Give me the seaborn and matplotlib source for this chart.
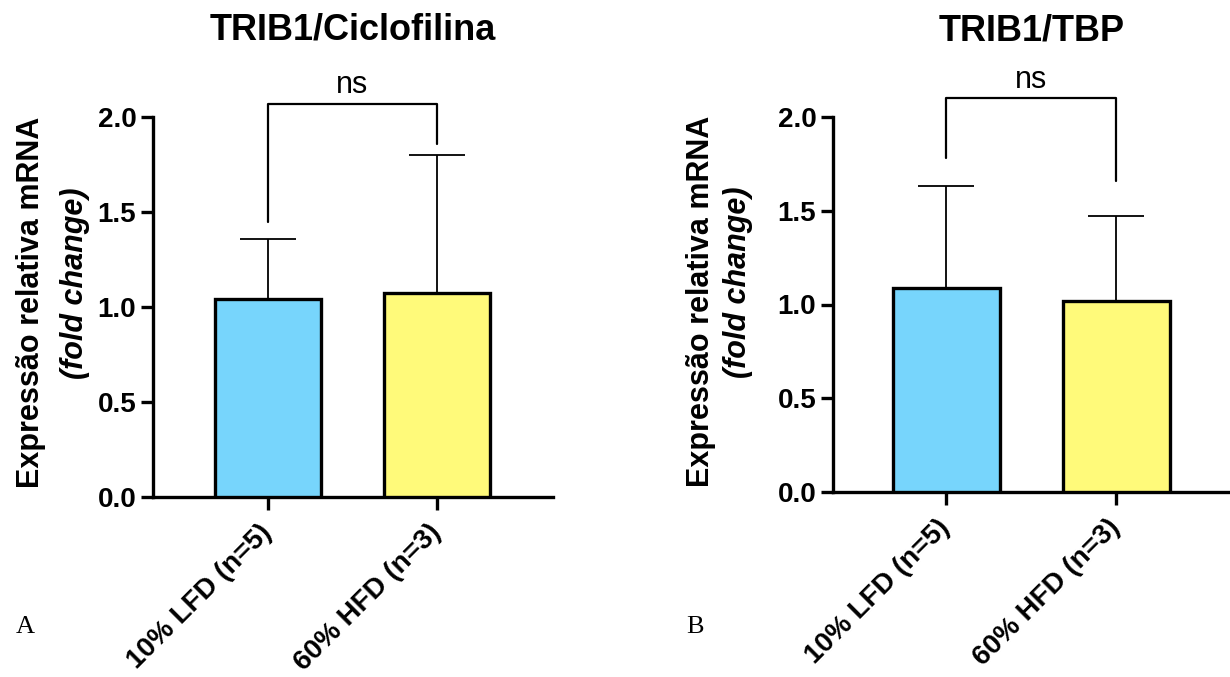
import numpy as np
import pandas as pd
import seaborn as sns
import matplotlib
matplotlib.use("Agg")
import matplotlib.pyplot as plt

sns.set_theme(style="ticks")
plt.rcParams['font.family'] = ['Liberation Sans', 'DejaVu Sans']
plt.rcParams['text.color'] = 'black'
plt.rcParams['xtick.color'] = 'black'
plt.rcParams['ytick.color'] = 'black'
plt.rcParams['axes.labelcolor'] = 'black'

groups = ["10% LFD (n=5)", "60% HFD (n=3)"]
titles = ["TRIB1/Ciclofilina", "TRIB1/TBP"]
means_cic = [1.04, 1.075]
sd_cic = [0.32, 0.725]
means_tbp = [1.088, 1.019]
sd_tbp = [0.544, 0.453]
bracket_cic = [2.07, 1.45, 1.86]   # top, left leg end, right leg end
bracket_tbp = [2.10, 1.78, 1.66]
sig_labels = ["ns", "ns"]
panel_letters = ["A", "B"]
yticks = [0.0, 0.5, 1.0, 1.5, 2.0]
colors = ["#77D5FC", "#FFFA7A"]

fig = plt.figure(figsize=(12.3, 6.77), dpi=100)
axA = fig.add_axes([153/1230, 1-497/677, 400/1230, 380/677])
axB = fig.add_axes([833/1230, 1-492/677, 397/1230, 375/677])

panels = [(axA, means_cic, sd_cic, bracket_cic, titles[0], sig_labels[0], (-0.68, 1.686)),
          (axB, means_tbp, sd_tbp, bracket_tbp, titles[1], sig_labels[1], (-0.665, 1.67))]

for ax, means, sds, br, title, sig, xl in panels:
    df = pd.DataFrame({"group": groups, "value": means})
    sns.barplot(data=df, x="group", y="value", hue="group", palette=colors,
                saturation=1, legend=False, ax=ax, width=0.63, edgecolor="black",
                linewidth=2.4, errorbar=None, zorder=3)
    ax.errorbar(np.arange(len(means)), means, yerr=[np.zeros(len(sds)), sds],
                fmt="none", ecolor="black", elinewidth=1.3, capsize=20,
                capthick=1.3, zorder=2)
    ax.set_ylim(0, 2.0)
    ax.set_xlim(*xl)
    ax.set_yticks(yticks)
    ax.set_yticklabels([f"{v:.1f}" for v in yticks], fontsize=20, fontweight="bold")
    ax.set_xticks(range(len(groups)))
    ax.set_xticklabels(groups, fontsize=20, fontweight="bold", rotation=45,
                       ha="right", va="center", rotation_mode="anchor")
    ax.set_xlabel("")
    ax.set_ylabel("")
    for s in ["top", "right"]:
        ax.spines[s].set_visible(False)
    for s in ["left", "bottom"]:
        ax.spines[s].set_linewidth(2.4)
        ax.spines[s].set_color("black")
    ax.tick_params(axis="both", length=9, width=2.4, color="black", pad=3)
    ax.tick_params(axis="x", pad=14)
    # bracket
    ax.plot([0, 0, 1, 1], [br[1], br[0], br[0], br[2]], color="black",
            lw=1.6, clip_on=False, zorder=4)
    ax.text(0.5, br[0] + 0.055, sig, ha="center", va="baseline", fontsize=22,
            clip_on=False)
    ax.text(0.5, 1.0 + 87/380, title, transform=ax.transAxes, ha="center",
            va="center", fontsize=26, fontweight="bold")

# y labels
for x1, y1, x2, y2 in [(31, 302, 75, 283), (701, 301, 738, 282)]:
    fig.text(x1/1230, 1-y1/677, "Expressão relativa mRNA", rotation=90,
             ha="center", va="center", fontsize=22, fontweight="bold")
    fig.text(x2/1230, 1-y2/677, "(fold change)", rotation=90, ha="center",
             va="center", fontsize=22, fontweight="bold", style="italic")

for letter, xp in zip(panel_letters, [25, 695]):
    fig.text(xp/1230, 1-627/677, letter, ha="center", va="center", fontsize=19,
             family="Liberation Serif")

fig.savefig("out.png", dpi=100)
